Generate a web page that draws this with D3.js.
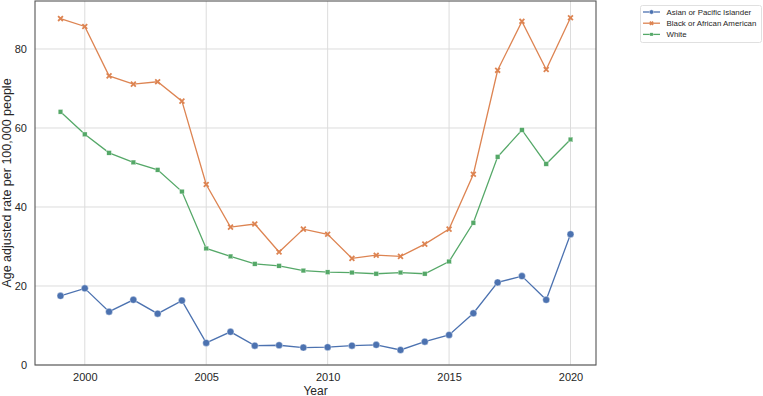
<!DOCTYPE html>
<html><head><meta charset="utf-8">
<script src="https://cdn.jsdelivr.net/npm/d3@7"></script>
<style>body{margin:0;background:#fff}svg{display:block;font-family:"Liberation Sans",Arial,sans-serif}</style>
</head><body><svg id="c" width="763" height="396"></svg>
<script>
const years = [1999,2000,2001,2002,2003,2004,2005,2006,2007,2008,2009,2010,2011,2012,2013,2014,2015,2016,2017,2018,2019,2020];
const asian = [17.5,19.4,13.5,16.5,13.0,16.3,5.6,8.4,4.9,5.0,4.4,4.5,4.9,5.1,3.8,5.9,7.6,13.1,20.9,22.5,16.5,33.1];
const black = [87.7,85.7,73.2,71.1,71.7,66.8,45.7,34.9,35.7,28.6,34.4,33.1,27.0,27.8,27.5,30.6,34.4,48.3,74.6,87.0,74.8,87.9];
const white = [64.1,58.4,53.7,51.3,49.4,43.9,29.5,27.5,25.6,25.1,23.9,23.5,23.4,23.1,23.4,23.1,26.2,36.0,52.7,59.5,50.9,57.1];
const seriesNames = ["Asian or Pacific Islander","Black or African American","White"];
const colors = ["#4c72b0","#dd8452","#55a868"];
const markers = ["circle","x","square"];
const xTicks = [2000,2005,2010,2015,2020];
const yTicks = [0,20,40,60,80];

const svg = d3.select("#c");
const L=35, R=596, T=1, B=365;
const x = d3.scaleLinear().domain([1997.95,2021.05]).range([L,R]);
const y = d3.scaleLinear().domain([0,92.15]).range([B,T]);

// grid
svg.append("g").selectAll("line").data(xTicks).join("line")
  .attr("x1",d=>x(d)).attr("x2",d=>x(d)).attr("y1",T).attr("y2",B)
  .attr("stroke","#dcdcdc").attr("stroke-width",1);
svg.append("g").selectAll("line").data(yTicks).join("line")
  .attr("x1",L).attr("x2",R).attr("y1",d=>y(d)).attr("y2",d=>y(d))
  .attr("stroke","#dcdcdc").attr("stroke-width",1);

// axes
const xa = svg.append("g").attr("transform",`translate(0,${B})`)
  .call(d3.axisBottom(x).tickValues(xTicks).tickFormat(d3.format("d")).tickSize(0).tickPadding(8));
const ya = svg.append("g").attr("transform",`translate(${L},0)`)
  .call(d3.axisLeft(y).tickValues(yTicks).tickSize(0).tickPadding(8));
[xa,ya].forEach(a=>{a.select(".domain").remove();a.selectAll("text").attr("font-size",11).attr("fill","#262626").attr("font-family","Liberation Sans, Arial, sans-serif");});

// frame
svg.append("rect").attr("x",L).attr("y",T).attr("width",R-L).attr("height",B-T)
  .attr("fill","none").attr("stroke","#555").attr("stroke-width",1.1);

const data = [asian,black,white];
const line = d3.line().x((d,i)=>x(years[i])).y(d=>y(d));

function drawMarker(g, type, color, cx, cy, s){
  if(type==="circle") g.append("circle").attr("cx",cx).attr("cy",cy).attr("r",s).attr("fill",color).attr("stroke","#fff").attr("stroke-width",0.4);
  else if(type==="square") g.append("rect").attr("x",cx-s).attr("y",cy-s).attr("width",s*2).attr("height",s*2).attr("fill",color).attr("stroke","#fff").attr("stroke-width",0.3);
  else g.append("path").attr("d",d3.symbol(d3.symbolX,s*s*3.2)()).attr("transform",`translate(${cx},${cy})`).attr("stroke",color).attr("stroke-width",1.8).attr("fill","none");
}

data.forEach((vals,k)=>{
  svg.append("path").datum(vals).attr("d",line).attr("fill","none").attr("stroke",colors[k]).attr("stroke-width",1.3);
  const g = svg.append("g");
  vals.forEach((v,i)=>drawMarker(g, markers[k], colors[k], x(years[i]), y(v), k===0?3.5:2.3));
});

// labels
svg.append("text").attr("x",(L+R)/2).attr("y",394.5).attr("text-anchor","middle").attr("font-size",12).attr("fill","#262626").text("Year");
svg.append("text").attr("transform",`translate(11,${(T+B)/2}) rotate(-90)`).attr("text-anchor","middle").attr("font-size",12.5).attr("fill","#262626").text("Age adjusted rate per 100,000 people");

// legend
const lg = svg.append("g");
lg.append("rect").attr("x",640.5).attr("y",5.5).attr("width",121).attr("height",37).attr("fill","#fff").attr("stroke","#e0e0e0").attr("rx",2);
seriesNames.forEach((n,k)=>{
  const yy = 12 + k*11.2;
  lg.append("line").attr("x1",643).attr("x2",660).attr("y1",yy).attr("y2",yy).attr("stroke",colors[k]).attr("stroke-width",1.3);
  drawMarker(lg, markers[k], colors[k], 651.5, yy, k===0?2.2:1.6);
  lg.append("text").attr("x",666.5).attr("y",yy+2.9).attr("font-size",7.9).attr("fill","#262626").text(n);
});
</script></body></html>
